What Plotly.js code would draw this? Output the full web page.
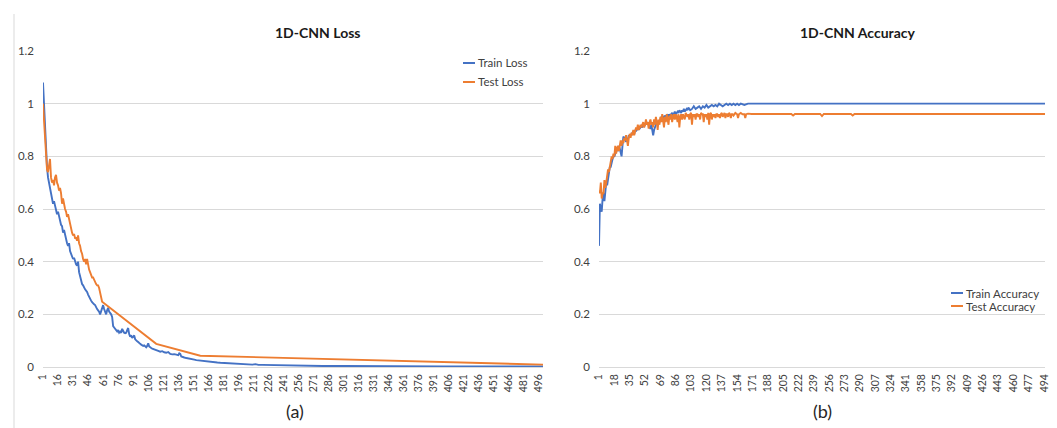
<!DOCTYPE html>
<html>
<head>
<meta charset="utf-8">
<script src="https://cdn.plot.ly/plotly-3.0.1.min.js"></script>
<style>
  html, body { margin: 0; padding: 0; background: #fff; }
  #chart { width: 1057px; height: 428px; }
</style>
</head>
<body>
<div id="chart"></div>
<script>
// ---------- DATA ----------
// Loss chart: x-axis tick labels (epochs)
const lossTicks = [1,16,31,46,61,76,91,106,121,136,151,166,181,196,211,226,241,256,271,286,301,316,331,346,361,376,391,406,421,436,451,466,481,496];
// Accuracy chart: x-axis tick labels (epochs)
const accTicks = [1,18,35,52,69,86,103,120,137,154,171,188,205,222,239,256,273,290,307,324,341,358,375,392,409,426,443,460,477,494];

// Train loss, epochs 1..110 (one value per epoch)
const trainLossDense = [
  1.08,0.99,0.90,0.82,0.76,0.72,0.70,0.69,0.66,0.65,
  0.62,0.63,0.61,0.60,0.58,0.59,0.57,0.55,0.54,0.535,
  0.51,0.52,0.50,0.48,0.47,0.46,0.47,0.44,0.43,0.42,
  0.41,0.415,0.40,0.39,0.385,0.40,0.36,0.34,0.325,0.315,
  0.31,0.30,0.295,0.29,0.285,0.275,0.265,0.258,0.252,0.246,
  0.24,0.238,0.235,0.225,0.22,0.215,0.21,0.20,0.215,0.23,
  0.235,0.22,0.205,0.20,0.215,0.225,0.21,0.205,0.20,0.19,
  0.155,0.15,0.145,0.14,0.135,0.14,0.13,0.134,0.13,0.145,
  0.135,0.13,0.128,0.13,0.14,0.148,0.125,0.115,0.12,0.11,
  0.115,0.12,0.105,0.10,0.098,0.095,0.09,0.088,0.085,0.083,
  0.08,0.082,0.078,0.075,0.08,0.09,0.078,0.073,0.072,0.07
];
// Train loss, later epochs
const trainLossTailEpochs = [112,114,116,118,120,122,124,126,127,128,130,132,134,136,137,138,139,140,142,144,146,148,150,152,154,156,158,160,165,170,175,178,182,188,195,200,210,213,216,220,230,240,260,280,300,330,360,400,450,500];
const trainLossTail = [0.066,0.064,0.061,0.058,0.06,0.056,0.054,0.057,0.052,0.05,0.048,0.049,0.047,0.045,0.052,0.05,0.04,0.038,0.036,0.034,0.033,0.03,0.03,0.028,0.026,0.025,0.024,0.022,0.02,0.019,0.017,0.016,0.015,0.014,0.012,0.01,0.009,0.011,0.008,0.008,0.007,0.006,0.005,0.004,0.004,0.003,0.003,0.002,0.002,0.002];

// Test loss, epochs 1..60
const testLossDense = [
  1.0,0.93,0.85,0.78,0.75,0.74,0.76,0.79,0.72,0.70,
  0.71,0.69,0.72,0.73,0.70,0.69,0.67,0.68,0.66,0.62,
  0.64,0.61,0.60,0.59,0.57,0.58,0.56,0.54,0.52,0.51,
  0.50,0.505,0.49,0.49,0.48,0.50,0.47,0.46,0.44,0.43,
  0.41,0.40,0.41,0.39,0.41,0.38,0.37,0.36,0.35,0.34,
  0.34,0.33,0.32,0.315,0.31,0.31,0.30,0.28,0.26,0.248
];
const testLossTailEpochs = [114,158,500];
const testLossTail = [0.088,0.043,0.009];

// Train accuracy, epochs 1..100
const trainAccDense = [
  0.46,0.62,0.60,0.59,0.64,0.66,0.63,0.68,0.70,0.69,
  0.72,0.74,0.76,0.76,0.78,0.79,0.80,0.80,0.81,0.82,
  0.83,0.82,0.84,0.83,0.81,0.80,0.84,0.875,0.87,0.86,
  0.855,0.87,0.86,0.88,0.875,0.885,0.88,0.89,0.895,0.885,
  0.90,0.895,0.905,0.90,0.91,0.905,0.91,0.915,0.91,0.92,
  0.915,0.92,0.925,0.93,0.92,0.925,0.91,0.905,0.92,0.89,
  0.88,0.90,0.915,0.92,0.93,0.925,0.935,0.93,0.94,0.95,
  0.945,0.95,0.945,0.955,0.95,0.955,0.96,0.95,0.96,0.955,
  0.96,0.965,0.955,0.965,0.97,0.96,0.965,0.97,0.965,0.975,
  0.97,0.965,0.975,0.97,0.98,0.97,0.975,0.98,0.975,0.985
];
const trainAccTailEpochs = [102,104,106,108,110,112,114,116,118,120,122,124,126,128,130,132,134,136,138,140,142,144,146,148,150,152,154,156,158,162,166,495];
const trainAccTail = [0.975,0.98,0.99,0.98,0.985,0.99,0.98,0.99,0.985,0.995,0.985,0.99,0.995,0.99,0.995,0.99,1.0,0.995,0.99,0.995,1.0,0.995,1.0,0.995,1.0,0.995,1.0,0.995,1.0,0.995,1.0,1.0];

// Test accuracy, epochs 1..150
const testAccDense = [
  0.67,0.66,0.70,0.64,0.66,0.66,0.71,0.68,0.70,0.72,
  0.75,0.74,0.77,0.78,0.80,0.79,0.81,0.80,0.84,0.81,
  0.83,0.84,0.82,0.85,0.86,0.84,0.86,0.85,0.87,0.86,
  0.88,0.86,0.84,0.87,0.885,0.87,0.89,0.88,0.90,0.88,
  0.90,0.91,0.90,0.92,0.90,0.91,0.92,0.91,0.92,0.93,
  0.91,0.92,0.94,0.92,0.93,0.905,0.93,0.94,0.92,0.93,
  0.91,0.94,0.92,0.95,0.93,0.90,0.94,0.92,0.95,0.93,
  0.96,0.94,0.91,0.95,0.93,0.96,0.94,0.92,0.955,0.94,
  0.96,0.93,0.95,0.96,0.94,0.96,0.95,0.93,0.96,0.91,
  0.95,0.96,0.94,0.96,0.95,0.94,0.965,0.96,0.95,0.96,
  0.94,0.96,0.965,0.92,0.96,0.95,0.96,0.94,0.96,0.96,
  0.95,0.96,0.94,0.965,0.96,0.96,0.93,0.96,0.95,0.96,
  0.94,0.965,0.92,0.96,0.965,0.94,0.96,0.95,0.96,0.945,
  0.96,0.96,0.95,0.96,0.945,0.96,0.965,0.95,0.96,0.965,
  0.945,0.96,0.96,0.95,0.965,0.96,0.945,0.96,0.96,0.955
];
const testAccTailEpochs = [152,154,155,156,158,160,162,163,164,166,170,214,216,218,246,248,250,280,282,284,495];
const testAccTail = [0.965,0.96,0.945,0.96,0.965,0.96,0.96,0.945,0.96,0.962,0.961,0.961,0.955,0.961,0.961,0.953,0.961,0.961,0.955,0.961,0.961];

// ---------- BUILD ----------
function series(dense, tailEpochs, tail) {
  const x = dense.map((_, i) => i + 1).concat(tailEpochs);
  const y = dense.concat(tail);
  return {x, y};
}
const trL = series(trainLossDense, trainLossTailEpochs, trainLossTail);
const teL = series(testLossDense, testLossTailEpochs, testLossTail);
const trA = series(trainAccDense, trainAccTailEpochs, trainAccTail);
const teA = series(testAccDense, testAccTailEpochs, testAccTail);

const W = 1057, H = 428;
const px = v => v / W;
const py = v => 1 - v / H;

const BLUE = '#4472C4', ORANGE = '#ED7D31';
const FONT = 'Lato, "Open Sans", sans-serif';
const TXT = '#404040';
const GRID = '#D9D9D9';

const traces = [
  {x: trL.x, y: trL.y, xaxis: 'x', yaxis: 'y', mode: 'lines', line: {color: BLUE, width: 1.9}, name: 'Train Loss'},
  {x: teL.x, y: teL.y, xaxis: 'x', yaxis: 'y', mode: 'lines', line: {color: ORANGE, width: 1.9}, name: 'Test Loss'},
  {x: trA.x, y: trA.y, xaxis: 'x2', yaxis: 'y2', mode: 'lines', line: {color: BLUE, width: 1.9}, name: 'Train Accuracy'},
  {x: teA.x, y: teA.y, xaxis: 'x2', yaxis: 'y2', mode: 'lines', line: {color: ORANGE, width: 1.9}, name: 'Test Accuracy'}
];

function xAxis(domain, range, ticks, anchor) {
  return {
    domain, range, anchor,
    tickmode: 'array', tickvals: ticks, ticktext: ticks.map(String),
    tickangle: -90, tickfont: {family: FONT, size: 10.5, color: TXT},
    showgrid: false, zeroline: false, showline: false, ticks: '',
    ticklabelstandoff: 4, fixedrange: true
  };
}
function yAxis(anchor) {
  return {
    domain: [61 / H, 377 / H], range: [0, 1.2], anchor,
    tickmode: 'array', tickvals: [0,0.2,0.4,0.6,0.8,1,1.2], ticktext: ['0','0.2','0.4','0.6','0.8','1','1.2'],
    tickfont: {family: FONT, size: 11.5, color: TXT},
    showgrid: true, gridcolor: GRID, gridwidth: 1,
    zeroline: true, zerolinecolor: GRID, zerolinewidth: 1,
    showline: false, ticks: '', ticklabelstandoff: 8, fixedrange: true
  };
}

const legendItems = [
  {text: 'Train Loss', color: BLUE, x0: 463, x1: 475, y: 63},
  {text: 'Test Loss', color: ORANGE, x0: 463, x1: 475, y: 82},
  {text: 'Train Accuracy', color: BLUE, x0: 951, x1: 963, y: 293},
  {text: 'Test Accuracy', color: ORANGE, x0: 951, x1: 963, y: 306}
];

const shapes = [
  {type: 'line', xref: 'paper', yref: 'paper', x0: px(14), x1: px(14), y0: py(14), y1: py(428), line: {color: '#D9D9D9', width: 1}}
].concat(legendItems.map(l => ({
  type: 'line', xref: 'paper', yref: 'paper', x0: px(l.x0), x1: px(l.x1), y0: py(l.y), y1: py(l.y),
  line: {color: l.color, width: 2}
})));

const annotations = [
  {text: '<b>1D-CNN Loss</b>', x: px(317), y: py(32), xref: 'paper', yref: 'paper', showarrow: false, xanchor: 'center', yanchor: 'middle', font: {family: FONT, size: 14, color: '#1a1a1a'}},
  {text: '<b>1D-CNN Accuracy</b>', x: px(858), y: py(32), xref: 'paper', yref: 'paper', showarrow: false, xanchor: 'center', yanchor: 'middle', font: {family: FONT, size: 14, color: '#1a1a1a'}},
  {text: '(a)', x: px(295), y: py(411), xref: 'paper', yref: 'paper', showarrow: false, xanchor: 'center', yanchor: 'middle', font: {family: FONT, size: 18, color: '#262626'}},
  {text: '(b)', x: px(822), y: py(411), xref: 'paper', yref: 'paper', showarrow: false, xanchor: 'center', yanchor: 'middle', font: {family: FONT, size: 18, color: '#262626'}}
].concat(legendItems.map(l => ({
  text: l.text, x: px(l.x1 + 1), y: py(l.y), xref: 'paper', yref: 'paper', showarrow: false,
  xanchor: 'left', yanchor: 'middle', font: {family: FONT, size: 11.5, color: TXT}
})));

const layout = {
  width: W, height: H,
  margin: {l: 0, r: 0, t: 0, b: 0},
  paper_bgcolor: '#fff', plot_bgcolor: '#fff',
  showlegend: false,
  xaxis: xAxis([43 / W, 543 / W], [1, 500], lossTicks, 'y'),
  yaxis: yAxis('x'),
  xaxis2: xAxis([599 / W, 1045 / W], [1, 495], accTicks, 'y2'),
  yaxis2: yAxis('x2'),
  shapes, annotations
};

Plotly.newPlot('chart', traces, layout, {displayModeBar: false, staticPlot: true});
</script>
</body>
</html>
